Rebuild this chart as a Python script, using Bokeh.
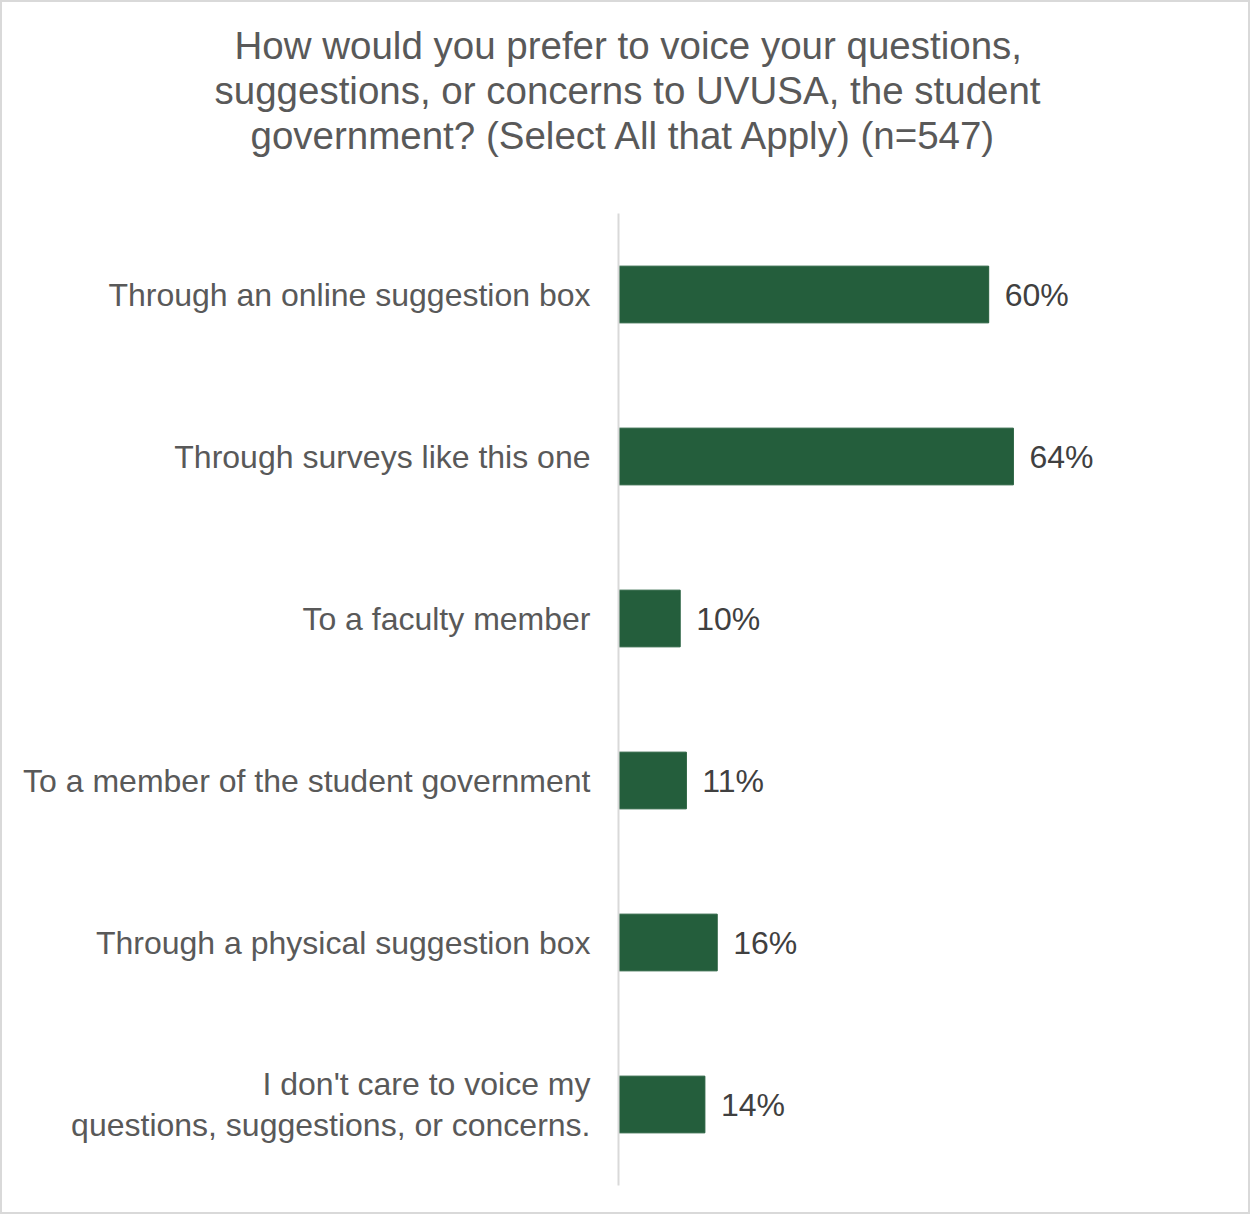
from bokeh.plotting import figure
from bokeh.models import FactorRange, Range1d, Title, ColumnDataSource
from bokeh.core.properties import value
from bokeh.embed import file_html
from bokeh.resources import INLINE

categories = [
    "Through an online suggestion box",
    "Through surveys like this one",
    "To a faculty member",
    "To a member of the student government",
    "Through a physical suggestion box",
    "I don't care to voice my\nquestions, suggestions, or concerns.",
]
percent_values = [60, 64, 10, 11, 16, 14]
title_lines = [
    "How would you prefer to voice your questions,",
    "suggestions, or concerns to UVUSA, the student",
    "government? (Select All that Apply)  (n=547)",
]

FONT = "Liberation Sans"
BAR = "#245E3C"

src = ColumnDataSource(dict(
    cat=categories,
    val=percent_values,
    lab=[f"{v}%" for v in percent_values],
))

p = figure(
    width=1250, height=1214,
    y_range=FactorRange(factors=list(reversed(categories)), range_padding=0),
    x_range=Range1d(0, 100),
    output_backend="svg", toolbar_location=None,
    min_border_left=616, min_border_right=17,
    min_border_top=211, min_border_bottom=31,
)
p.styles = {"border": "2px solid #D9D9D9"}

p.hbar(y="cat", right="val", left=0, height=0.35, source=src,
       fill_color=BAR, line_color=BAR)
p.text(x="val", y="cat", text="lab", source=src, x_offset=16,
       text_baseline="middle", text_align="left",
       text_font=value(FONT), text_font_size="32px", text_color="#404040")

p.xaxis.visible = False
p.xgrid.visible = False
p.ygrid.visible = False
p.outline_line_color = None
p.background_fill_color = "white"
p.border_fill_color = "white"

ya = p.yaxis[0]
ya.axis_line_color = "#D9D9D9"
ya.axis_line_width = 2
ya.major_tick_line_color = None
ya.minor_tick_line_color = None
ya.major_tick_out = 0
ya.major_tick_in = 0
ya.major_label_standoff = 28
ya.major_label_text_font = FONT
ya.major_label_text_font_size = "32px"
ya.major_label_text_color = "#595959"
ya.major_label_text_line_height = 1.15

# spacer between frame and title block
p.add_layout(Title(text=" ", text_font_size="38.5px", standoff=12), "above")
# title lines, nearest the plot first
offsets = [-384, -404, -368]
for line, off in reversed(list(zip(title_lines, offsets))):
    p.add_layout(Title(text=line, align="left", offset=off, text_font=FONT,
                       text_font_size="38.5px", text_font_style="normal",
                       text_color="#595959", standoff=0), "above")

open("out.html", "w").write(file_html(p, INLINE))
